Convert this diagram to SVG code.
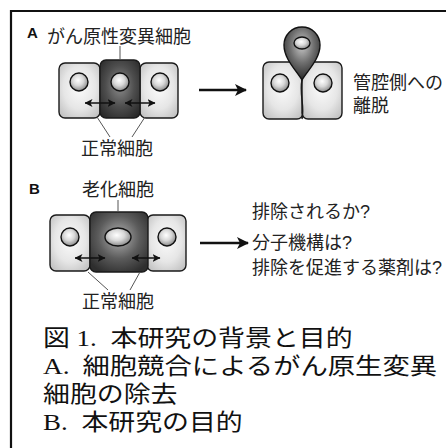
<svg xmlns="http://www.w3.org/2000/svg" width="446" height="448" viewBox="0 0 446 448">
  <style>
    .frame { stroke: #111; stroke-width: 2.2; fill: none; }
    .cell { stroke: #1a1a1a; stroke-width: 1.4; }
    .light { fill: url(#gLight); }
    .dark { fill: url(#gDark); }
    .darkB { fill: url(#gDarkB); }
    .nuc { fill: url(#gNuc); stroke: #111; stroke-width: 1.4; }
    .lbl { font-family: "Liberation Sans", "Noto Sans CJK JP", sans-serif; font-size: 18px; fill: #222; }
    .tag { font-family: "Liberation Sans", "Noto Sans CJK JP", sans-serif; font-size: 15px; font-weight: bold; fill: #111; }
    .cap { font-family: "Liberation Serif", "Noto Sans CJK JP", serif; font-size: 23px; fill: #111; }
    .lead { stroke: #555; stroke-width: 1; fill: none; }
    .dbl { stroke: #111; stroke-width: 1.5; fill: none; marker-start: url(#headS); marker-end: url(#headS); }
    .big { stroke: #111; stroke-width: 2.4; fill: none; marker-end: url(#headL); }
  </style>
  <defs>
    <radialGradient id="gLight" cx="50%" cy="45%" r="65%">
      <stop offset="0" stop-color="#fbfbfb"/>
      <stop offset="0.6" stop-color="#e6e6e6"/>
      <stop offset="1" stop-color="#c4c4c4"/>
    </radialGradient>
    <radialGradient id="gDark" cx="50%" cy="45%" r="65%">
      <stop offset="0" stop-color="#8c8c8c"/>
      <stop offset="0.55" stop-color="#4e4e4e"/>
      <stop offset="1" stop-color="#2a2a2a"/>
    </radialGradient>
    <radialGradient id="gDarkB" cx="50%" cy="42%" r="65%">
      <stop offset="0" stop-color="#b4b4b4"/>
      <stop offset="0.55" stop-color="#5c5c5c"/>
      <stop offset="1" stop-color="#2e2e2e"/>
    </radialGradient>
    <radialGradient id="gNuc" cx="45%" cy="40%" r="60%">
      <stop offset="0" stop-color="#ffffff"/>
      <stop offset="0.5" stop-color="#d8d8d8"/>
      <stop offset="1" stop-color="#8a8a8a"/>
    </radialGradient>
    <radialGradient id="gPin" cx="50%" cy="35%" r="65%">
      <stop offset="0" stop-color="#c8c8c8"/>
      <stop offset="0.5" stop-color="#707070"/>
      <stop offset="1" stop-color="#262626"/>
    </radialGradient>
    <marker id="headL" viewBox="0 0 12 12" refX="11" refY="6" markerWidth="12" markerHeight="12" markerUnits="userSpaceOnUse" orient="auto">
      <path d="M0,0 L12,6 L0,12 L3,6 Z" fill="#111"/>
    </marker>
    <marker id="headS" viewBox="0 0 8 8" refX="7.5" refY="4" markerWidth="8" markerHeight="8" markerUnits="userSpaceOnUse" orient="auto-start-reverse">
      <path d="M0,0 L8,4 L0,8 L2,4 Z" fill="#111"/>
    </marker>
  </defs>

  <rect width="446" height="448" fill="#fff"/>
  <path class="frame" d="M11,448 V11 H446"/>

  <!-- Panel A: epithelial sheet with a transformed cell -->
  <g id="panelA-label"><text class="tag" x="27" y="38">A</text></g>
  <g id="transformed-label"><text class="lbl" x="47" y="43">がん原性変異細胞</text></g>

  <g id="cellA-left">
    <rect class="cell light" x="59" y="63" width="41" height="55" rx="6"/>
    <circle class="nuc" cx="79" cy="82" r="9"/>
  </g>
  <g id="cellA-right">
    <rect class="cell light" x="140" y="63" width="38" height="55" rx="6"/>
    <circle class="nuc" cx="160" cy="82" r="9"/>
  </g>
  <g id="cellA-mid">
    <rect class="cell dark" x="100" y="60" width="40" height="58" rx="6"/>
    <circle class="nuc" cx="120" cy="82" r="9"/>
  </g>

  <g id="normalA-label"><text class="lbl" x="81" y="155">正常細胞</text></g>

  <!-- Extrusion result -->
  <g id="extruded">
    <rect class="cell light" x="263" y="62" width="40" height="57" rx="6"/>
    <rect class="cell light" x="302" y="62" width="40" height="57" rx="6"/>
    <path d="M302,80 C299,94 305,106 302,119" stroke="#1a1a1a" stroke-width="1.4" fill="none"/>
    <circle class="nuc" cx="280" cy="83" r="9"/>
    <circle class="nuc" cx="323" cy="83" r="9"/>
    <path d="M302,80 C296,70 284,59 284,45 A18,18 0 1 1 320,45 C320,59 308,70 302,80 Z" fill="url(#gPin)" stroke="#111" stroke-width="1.4"/>
    <ellipse class="nuc" cx="302" cy="43" rx="8" ry="6"/>
  </g>
  <g id="extrusion-label">
    <text class="lbl" x="353" y="89">管腔側への</text>
    <text class="lbl" x="353" y="112">離脱</text>
  </g>

  <!-- Panel B: senescent cell among normal cells -->
  <g id="panelB-label"><text class="tag" x="29" y="194">B</text></g>
  <g id="senescent-label"><text class="lbl" x="82" y="196">老化細胞</text></g>

  <g id="cellB-left">
    <rect class="cell light" x="50" y="215" width="40" height="56" rx="6"/>
    <circle class="nuc" cx="70" cy="237" r="9"/>
  </g>
  <g id="cellB-right">
    <rect class="cell light" x="147" y="215" width="39" height="56" rx="6"/>
    <circle class="nuc" cx="167" cy="237" r="9"/>
  </g>
  <g id="cellB-mid">
    <rect class="cell darkB" x="90" y="212" width="58" height="60" rx="6"/>
    <ellipse class="nuc" cx="118" cy="237" rx="13" ry="9"/>
  </g>

  <g id="normalB-label"><text class="lbl" x="82" y="308">正常細胞</text></g>

  <g id="questions">
    <text class="lbl" x="252" y="218">排除されるか?</text>
    <text class="lbl" x="252" y="249">分子機構は?</text>
    <text class="lbl" x="252" y="274">排除を促進する薬剤は?</text>
  </g>

  <!-- Connectors -->
  <g id="connectors">
    <path class="lead" d="M120,46 V60"/>
    <path class="lead" d="M97,117 L110,137"/>
    <path class="lead" d="M145,117 L132,137"/>
    <path class="dbl" d="M85,103 H115"/>
    <path class="dbl" d="M125,103 H155"/>
    <path class="big" d="M199,90 H246"/>

    <path class="lead" d="M118,200 V212"/>
    <path class="lead" d="M88,272 L108,290"/>
    <path class="lead" d="M140,272 L130,290"/>
    <path class="dbl" d="M75,258 H105"/>
    <path class="dbl" d="M132,258 H160"/>
    <path class="big" d="M200,243 H248"/>
  </g>

  <!-- Caption -->
  <g id="caption">
    <text class="cap" transform="translate(43,346) scale(1.17,1)">図 1. <tspan dx="6">本研究の背景と目的</tspan></text>
    <text class="cap" transform="translate(43,374) scale(1.19,1)">A. <tspan dx="5">細胞競合によるがん原生変異</tspan></text>
    <text class="cap" transform="translate(43,402) scale(1.17,1)">細胞の除去</text>
    <text class="cap" transform="translate(43,430) scale(1.17,1)">B. <tspan dx="6">本研究の目的</tspan></text>
  </g>
</svg>
